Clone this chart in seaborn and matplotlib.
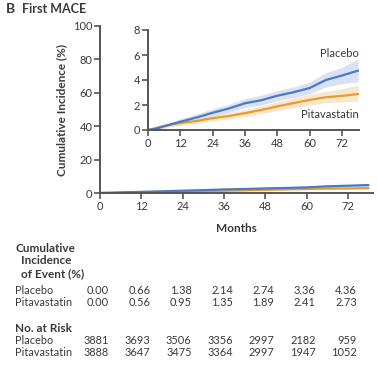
import matplotlib
matplotlib.use("Agg")
import matplotlib.pyplot as plt
import matplotlib.transforms as mtransforms
import numpy as np
import pandas as pd
import seaborn as sns

# ---------------- data ----------------
months = [0, 3, 6, 9, 12, 18, 24, 30, 36, 42, 48, 54, 60, 66, 72, 78]
placebo = [0.0, 0.10, 0.30, 0.48, 0.66, 1.00, 1.38, 1.72, 2.14, 2.38, 2.74, 3.02, 3.36, 4.00, 4.36, 4.75]
placebo_lo = [0.0, 0.04, 0.18, 0.32, 0.45, 0.75, 1.10, 1.40, 1.80, 2.00, 2.35, 2.60, 2.90, 3.45, 3.70, 3.85]
placebo_hi = [0.0, 0.18, 0.42, 0.66, 0.90, 1.28, 1.70, 2.05, 2.50, 2.78, 3.15, 3.45, 3.85, 4.60, 5.00, 5.70]
pitava = [0.0, 0.16, 0.33, 0.45, 0.56, 0.72, 0.95, 1.12, 1.35, 1.60, 1.89, 2.15, 2.41, 2.62, 2.73, 2.88]
pitava_lo = [0.0, 0.08, 0.20, 0.30, 0.38, 0.52, 0.72, 0.88, 1.10, 1.30, 1.55, 1.78, 2.00, 2.18, 2.25, 2.30]
pitava_hi = [0.0, 0.26, 0.46, 0.62, 0.75, 0.95, 1.20, 1.40, 1.65, 1.92, 2.25, 2.55, 2.85, 3.10, 3.30, 3.60]

tick_months = [0, 12, 24, 36, 48, 60, 72]
inc_placebo = ["0.00", "0.66", "1.38", "2.14", "2.74", "3.36", "4.36"]
inc_pitava = ["0.00", "0.56", "0.95", "1.35", "1.89", "2.41", "2.73"]
risk_placebo = [3881, 3693, 3506, 3356, 2997, 2182, 959]
risk_pitava = [3888, 3647, 3475, 3364, 2997, 1947, 1052]

# ---------------- style ----------------
sns.set_style("ticks")
plt.rcParams["font.family"] = ["Lato", "DejaVu Sans"]
TXT = "#3a3a3a"
SPINE = "#555555"
BLUE = "#4a79c6"
ORANGE = "#e89b2e"
BLUE_BAND = "#cdd8f0"
ORANGE_BAND = "#f8dfbd"

df = pd.DataFrame({
    "Months": months * 2,
    "Incidence": placebo + pitava,
    "Group": ["Placebo"] * len(months) + ["Pitavastatin"] * len(months),
})

fig = plt.figure(figsize=(3.77, 3.65), dpi=100)

def style_axes(ax, fs=8):
    for s in ["top", "right"]:
        ax.spines[s].set_visible(False)
    for s in ["left", "bottom"]:
        ax.spines[s].set_color(SPINE)
        ax.spines[s].set_linewidth(1.4)
    ax.tick_params(axis="both", direction="out", length=4, width=1.2,
                   color=SPINE, labelcolor=TXT, labelsize=fs, pad=1.5)

def draw_curves(ax, lw):
    ax.fill_between(months, placebo_lo, placebo_hi, color=BLUE_BAND, alpha=0.75, lw=0)
    ax.fill_between(months, pitava_lo, pitava_hi, color=ORANGE_BAND, alpha=0.75, lw=0)
    sns.lineplot(data=df, x="Months", y="Incidence", hue="Group",
                 hue_order=["Pitavastatin", "Placebo"],
                 palette={"Placebo": BLUE, "Pitavastatin": ORANGE},
                 linewidth=lw, legend=False, ax=ax)

# main axes
ax = fig.add_axes([100 / 377, 1 - 193 / 365, 273 / 377, 167 / 365])
draw_curves(ax, 1.6)
ax.set_xlim(0, 79.3)
ax.set_ylim(0, 100)
ax.set_xticks(tick_months)
ax.set_yticks([0, 20, 40, 60, 80, 100])
style_axes(ax, 8)
ax.set_xlabel("Months", fontsize=8.5, fontweight="bold", color=TXT, labelpad=8)
ax.set_ylabel("Cumulative Incidence (%)", fontsize=8.5, fontweight="bold", color=TXT, labelpad=4)

# inset axes
ins = fig.add_axes([148 / 377, 1 - 130 / 365, 211 / 377, 100 / 365])
ins.patch.set_alpha(0)
draw_curves(ins, 1.6)
ins.set_xlim(0, 78.3)
ins.set_ylim(0, 8)
ins.set_xticks(tick_months)
ins.set_yticks([0, 2, 4, 6, 8])
style_axes(ins, 8)
ins.set_xlabel("")
ins.set_ylabel("")
ins.text(78.3, 6.15, "Placebo", ha="right", va="center", fontsize=8, color=TXT)
ins.text(78.3, 1.25, "Pitavastatin", ha="right", va="center", fontsize=8, color=TXT)

# title
fig.text(6 / 377, 1 - 9 / 365, "B", fontsize=10, fontweight="bold", color=TXT, va="center")
fig.text(22 / 377, 1 - 9 / 365, "First MACE", fontsize=9, fontweight="bold", color=TXT, va="center")

# table
tr = mtransforms.blended_transform_factory(ax.transData, fig.transFigure)
lx = 15 / 377
def fy(py):
    return 1 - py / 365

HFS = 8.5
RFS = 7.9
fig.text(lx, fy(248), "Cumulative", fontsize=HFS, fontweight="bold", color=TXT, va="center")
fig.text(lx + 6 / 377, fy(261), "Incidence", fontsize=HFS, fontweight="bold", color=TXT, va="center")
fig.text(lx + 6 / 377, fy(274), "of Event (%)", fontsize=HFS, fontweight="bold", color=TXT, va="center")
fig.text(lx, fy(290), "Placebo", fontsize=RFS, color=TXT, va="center")
fig.text(lx, fy(302), "Pitavastatin", fontsize=RFS, color=TXT, va="center")
fig.text(lx, fy(328), "No. at Risk", fontsize=HFS, fontweight="bold", color=TXT, va="center")
fig.text(lx, fy(341), "Placebo", fontsize=RFS, color=TXT, va="center")
fig.text(lx, fy(353), "Pitavastatin", fontsize=RFS, color=TXT, va="center")

off = 2.6
for m, a, b in zip(tick_months, inc_placebo, inc_pitava):
    ax.text(m + off, fy(290), a, transform=tr, ha="right", va="center", fontsize=RFS, color=TXT)
    ax.text(m + off, fy(302), b, transform=tr, ha="right", va="center", fontsize=RFS, color=TXT)
for m, a, b in zip(tick_months, risk_placebo, risk_pitava):
    ax.text(m + off, fy(341), str(a), transform=tr, ha="right", va="center", fontsize=RFS, color=TXT)
    ax.text(m + off, fy(353), str(b), transform=tr, ha="right", va="center", fontsize=RFS, color=TXT)

fig.savefig("out.png", dpi=100)
